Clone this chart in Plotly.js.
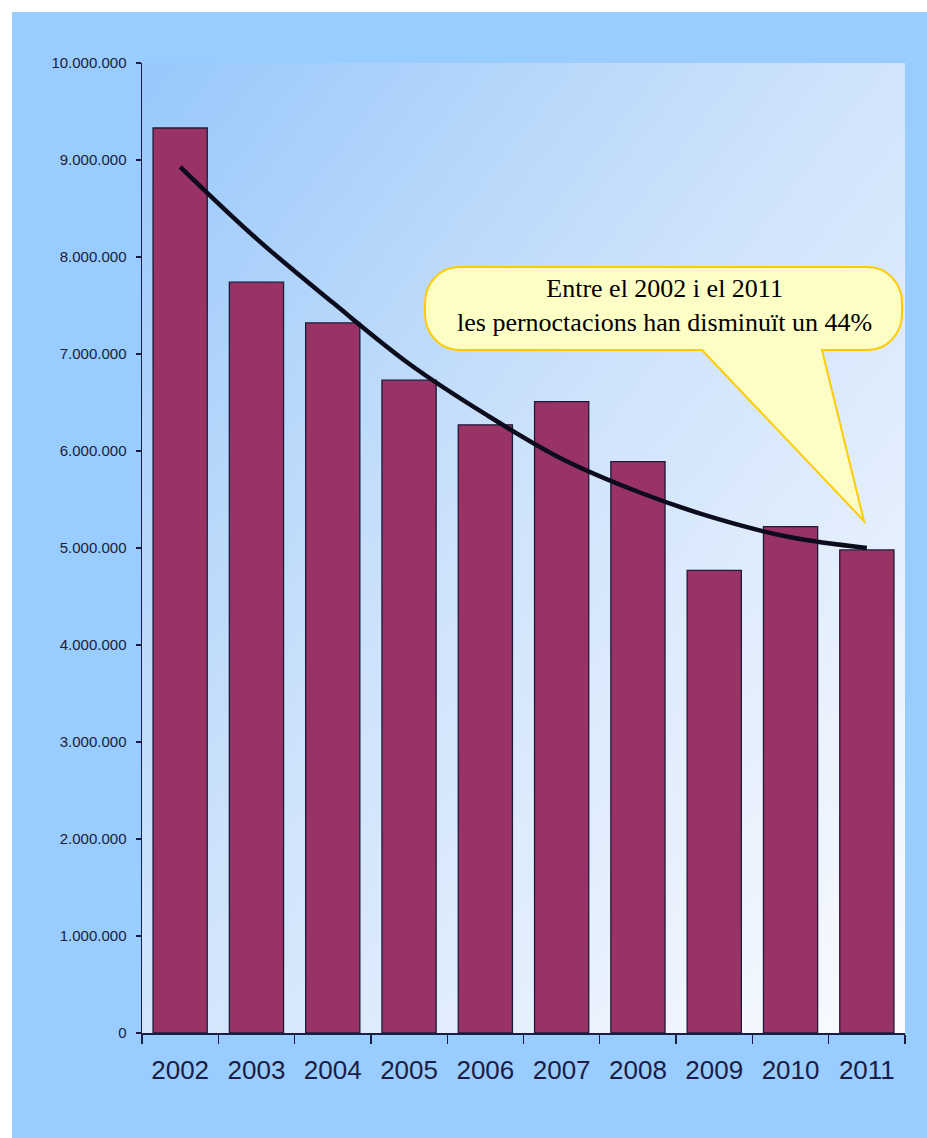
<!DOCTYPE html>
<html>
<head>
<meta charset="utf-8">
<script src="https://cdn.plot.ly/plotly-3.0.1.min.js"></script>
<style>
  html, body { margin: 0; padding: 0; background: #ffffff; }
  #chart { position: absolute; left: 12px; top: 12px; width: 915px; height: 1126px; }
</style>
</head>
<body>
<div id="chart"></div>
<script>
// ---- data ----
const years = ['2002', '2003', '2004', '2005', '2006', '2007', '2008', '2009', '2010', '2011'];
const overnightStays = [9330000, 7740000, 7320000, 6730000, 6270000, 6510000, 5890000, 4770000, 5220000, 4980000];
const trendValues = [8930000, 8190000, 7530000, 6900000, 6380000, 5920000, 5580000, 5310000, 5110000, 5000000];
const yTickValues = [0, 1000000, 2000000, 3000000, 4000000, 5000000, 6000000, 7000000, 8000000, 9000000, 10000000];
const calloutText = 'Entre el 2002 i el 2011<br>les pernoctacions han disminuït un 44%';

// ---- plot-area geometry (page pixels) used only for decorations ----
const PL = 142, PT = 63, PW = 763, PH = 970;
const fx = x => (x - PL) / PW;
const fy = y => (PT + PH - y) / PH;

// background gradient of the plot area
const gradSvg = "<svg xmlns='http://www.w3.org/2000/svg' width='763' height='970' viewBox='0 0 763 970' preserveAspectRatio='none'>" +
  "<defs><linearGradient id='g' x1='0' y1='0' x2='1' y2='1'>" +
  "<stop offset='0' stop-color='#97c8fb'/><stop offset='0.45' stop-color='#cde2fb'/><stop offset='1' stop-color='#fbfcff'/>" +
  "</linearGradient></defs><rect x='0' y='0' width='763' height='970' fill='url(#g)'/></svg>";
const gradUri = 'data:image/svg+xml;charset=utf-8,' + encodeURIComponent(gradSvg);

// callout path (wedge rounded rectangle)
function calloutPath() {
  const L = 425, R = 902, T = 267, B = 350, rx = 34, ry = 36, k = 0.552;
  const P = (x, y) => fx(x).toFixed(5) + ',' + fy(y).toFixed(5);
  return 'M' + P(L + rx, T) +
    ' L' + P(R - rx, T) +
    ' C' + P(R - rx + k * rx, T) + ' ' + P(R, T + ry - k * ry) + ' ' + P(R, T + ry) +
    ' L' + P(R, B - ry) +
    ' C' + P(R, B - ry + k * ry) + ' ' + P(R - rx + k * rx, B) + ' ' + P(R - rx, B) +
    ' L' + P(822, B) +
    ' L' + P(864, 521) +
    ' L' + P(702, B) +
    ' L' + P(L + rx, B) +
    ' C' + P(L + rx - k * rx, B) + ' ' + P(L, B - ry + k * ry) + ' ' + P(L, B - ry) +
    ' L' + P(L, T + ry) +
    ' C' + P(L, T + ry - k * ry) + ' ' + P(L + rx - k * rx, T) + ' ' + P(L + rx, T) +
    ' Z';
}

const navy = '#1c1c44';

const traces = [
  {
    type: 'bar',
    x: years,
    y: overnightStays,
    marker: { color: '#993366', line: { color: '#1e1a3a', width: 1.3 } },
    hoverinfo: 'x+y'
  },
  {
    type: 'scatter',
    mode: 'lines',
    x: years,
    y: trendValues,
    line: { color: '#0c0c1c', width: 4.5, shape: 'spline', smoothing: 1 },
    hoverinfo: 'skip'
  }
];

const layout = {
  width: 915,
  height: 1126,
  margin: { l: 130, r: 22, t: 51, b: 105 },
  paper_bgcolor: '#99ccff',
  plot_bgcolor: 'rgba(0,0,0,0)',
  showlegend: false,
  bargap: 0.29,
  separators: ',.',
  font: { family: 'Arial, "Liberation Sans", sans-serif', color: navy },
  xaxis: {
    type: 'category',
    showgrid: false,
    zeroline: false,
    showline: true,
    linecolor: navy,
    linewidth: 1.5,
    ticks: 'outside',
    tickson: 'boundaries',
    ticklen: 9,
    tickwidth: 1.3,
    tickcolor: navy,
    ticklabelstandoff: 13,
    tickfont: { size: 26, color: navy, family: 'Arial, "Liberation Sans", sans-serif' },
    fixedrange: true
  },
  yaxis: {
    range: [0, 10000000],
    showgrid: false,
    zeroline: false,
    showline: true,
    linecolor: navy,
    linewidth: 1.5,
    ticks: 'outside',
    ticklen: 5,
    tickwidth: 1.3,
    tickcolor: navy,
    tickvals: yTickValues,
    tickformat: ',d',
    ticklabelstandoff: 6,
    tickfont: { size: 15, color: '#20203a', family: 'Arial, "Liberation Sans", sans-serif' },
    fixedrange: true
  },
  images: [{
    source: gradUri,
    xref: 'paper', yref: 'paper',
    x: 0, y: 1, sizex: 1, sizey: 1,
    xanchor: 'left', yanchor: 'top',
    sizing: 'stretch',
    layer: 'below'
  }],
  shapes: [{
    type: 'path',
    xref: 'paper', yref: 'paper',
    path: calloutPath(),
    fillcolor: '#fdfdc6',
    line: { color: '#ffcc00', width: 2 },
    layer: 'above'
  }],
  annotations: [{
    xref: 'paper', yref: 'paper',
    x: fx(664), y: fy(305),
    xanchor: 'center', yanchor: 'middle',
    showarrow: false,
    align: 'center',
    text: calloutText,
    font: { family: '"Liberation Serif", "Times New Roman", serif', size: 26, color: '#000000' }
  }]
};

Plotly.newPlot('chart', traces, layout, { displayModeBar: false, staticPlot: true });
</script>
</body>
</html>
